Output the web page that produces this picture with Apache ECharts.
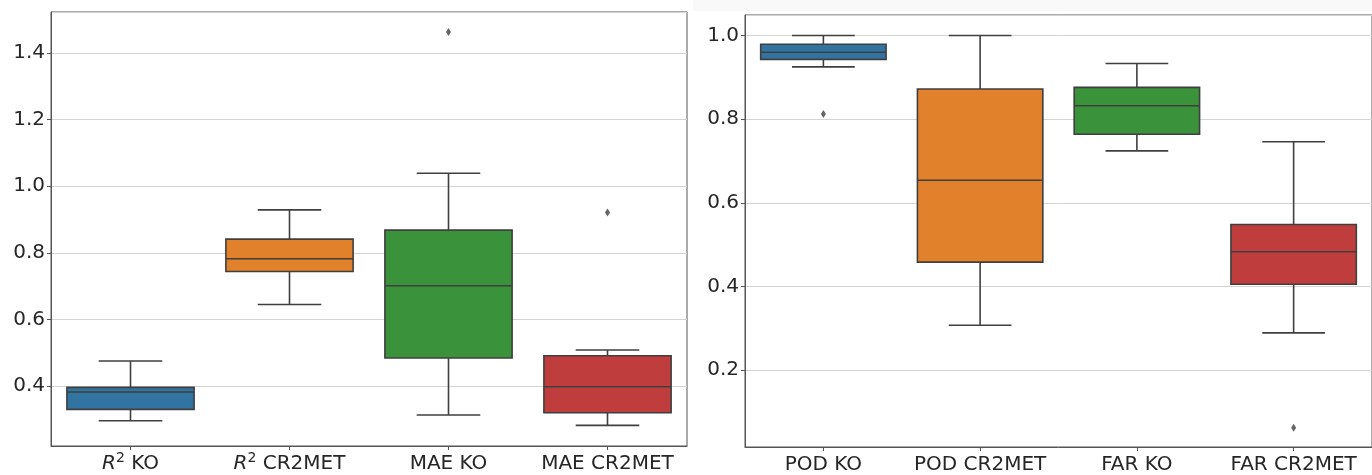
<!DOCTYPE html>
<html>
<head>
<meta charset="utf-8">
<script src="https://cdn.jsdelivr.net/npm/echarts@6/dist/echarts.min.js"></script>
<style>
html,body{margin:0;padding:0;background:#fff;}
#chart{width:1372px;height:475px;}
</style>
</head>
<body>
<div id="chart"></div>
<script>
// ---- data ----
const leftCategories = ['R² KO', 'R² CR2MET', 'MAE KO', 'MAE CR2MET'];
// [low whisker, q1, median, q3, high whisker]
const leftBoxes = [
  [0.296, 0.330, 0.382, 0.396, 0.475],
  [0.645, 0.744, 0.782, 0.841, 0.929],
  [0.313, 0.484, 0.701, 0.868, 1.039],
  [0.282, 0.320, 0.398, 0.491, 0.508]
];
const leftOutliers = [[2, 1.463], [3, 0.921]];

const rightCategories = ['POD KO', 'POD CR2MET', 'FAR KO', 'FAR CR2MET'];
const rightBoxes = [
  [0.925, 0.943, 0.960, 0.979, 1.000],
  [0.307, 0.458, 0.654, 0.872, 1.000],
  [0.724, 0.764, 0.832, 0.876, 0.933],
  [0.289, 0.405, 0.483, 0.548, 0.746]
];
const rightOutliers = [[0, 0.812], [3, 0.062]];

const leftTicks = [0.4, 0.6, 0.8, 1.0, 1.2, 1.4];
const rightTicks = [0.2, 0.4, 0.6, 0.8, 1.0];

// ---- styling ----
const palette = ['#3274a1', '#e1812c', '#3a923a', '#c03d3e'];
const edge = '#3f3f3f';
const FONT = 'DejaVu Sans';
const textColor = '#262626';

function renderBox(params, api) {
  const idx = api.value(0);
  const pLo = api.coord([idx, api.value(1)]);
  const pQ1 = api.coord([idx, api.value(2)]);
  const pMed = api.coord([idx, api.value(3)]);
  const pQ3 = api.coord([idx, api.value(4)]);
  const pHi = api.coord([idx, api.value(5)]);
  const band = api.size([1, 0])[0];
  const bw = band * 0.8, cw = band * 0.4;
  const cx = pMed[0];
  const ls = { stroke: edge, lineWidth: 1.6, fill: null };
  return {
    type: 'group',
    children: [
      { type: 'line', shape: { x1: cx, y1: pQ3[1], x2: cx, y2: pHi[1] }, style: ls },
      { type: 'line', shape: { x1: cx, y1: pQ1[1], x2: cx, y2: pLo[1] }, style: ls },
      { type: 'line', shape: { x1: cx - cw / 2, y1: pHi[1], x2: cx + cw / 2, y2: pHi[1] }, style: ls },
      { type: 'line', shape: { x1: cx - cw / 2, y1: pLo[1], x2: cx + cw / 2, y2: pLo[1] }, style: ls },
      { type: 'rect', shape: { x: cx - bw / 2, y: pQ3[1], width: bw, height: pQ1[1] - pQ3[1] },
        style: { fill: palette[idx], stroke: edge, lineWidth: 1.6 } },
      { type: 'line', shape: { x1: cx - bw / 2, y1: pMed[1], x2: cx + bw / 2, y2: pMed[1] }, style: ls }
    ]
  };
}

function catFormatter(v) {
  if (v.indexOf('R²') === 0) {
    return '{i|R}{sup|2}{n|' + v.slice(2) + '}';
  }
  return '{n|' + v + '}';
}
const catRich = {
  i: { fontFamily: FONT, fontSize: 20, fontStyle: 'italic', color: textColor, lineHeight: 26 },
  sup: { fontFamily: FONT, fontSize: 14, color: textColor, verticalAlign: 'top', lineHeight: 14 },
  n: { fontFamily: FONT, fontSize: 20, color: textColor, lineHeight: 26 }
};

function yLabel(ticks) {
  return function (v) {
    for (const t of ticks) if (Math.abs(v - t) < 1e-6) return t.toFixed(1);
    return '';
  };
}

function xAxis(gridIndex, cats) {
  return {
    type: 'category', gridIndex, data: cats, boundaryGap: true,
    axisLine: { show: true, lineStyle: { color: '#555', width: 1 } },
    axisTick: { show: true, alignWithLabel: true, length: 4, lineStyle: { color: '#555' } },
    axisLabel: { interval: 0, hideOverlap: false, margin: 5, formatter: catFormatter, rich: catRich,
      fontFamily: FONT, fontSize: 20, color: textColor },
    splitLine: { show: false }
  };
}
function yAxis(gridIndex, min, max, ticks) {
  return {
    type: 'value', gridIndex, min, max, minInterval: 0.2, maxInterval: 0.2, splitNumber: 6,
    axisLine: { show: true, lineStyle: { color: '#555', width: 1 } },
    axisTick: { show: true, length: 4, lineStyle: { color: '#555' } },
    axisLabel: { margin: 6, showMinLabel: false, showMaxLabel: false, formatter: yLabel(ticks),
      fontFamily: FONT, fontSize: 20, color: textColor },
    splitLine: { show: true, lineStyle: { color: '#d4d4d4', width: 1 } }
  };
}

const chart = echarts.init(document.getElementById('chart'), null, { renderer: 'canvas' });
chart.setOption({
  animation: false,
  backgroundColor: '#ffffff',
  graphic: [
    { type: 'rect', shape: { x: 693, y: 0, width: 679, height: 11 }, style: { fill: '#f9f9f9' }, z: -10 }
  ],
  grid: [
    { left: 51, top: 12, right: 685, bottom: 29, show: true, borderColor: '#555', borderWidth: 1, backgroundColor: 'transparent' },
    { left: 745, top: 15, right: -7, bottom: 26, show: true, borderColor: '#555', borderWidth: 1, backgroundColor: 'transparent' }
  ],
  xAxis: [xAxis(0, leftCategories), xAxis(1, rightCategories)],
  yAxis: [yAxis(0, 0.22, 1.523, leftTicks), yAxis(1, 0.016, 1.049, rightTicks)],
  series: [
    { type: 'custom', xAxisIndex: 0, yAxisIndex: 0, renderItem: renderBox,
      encode: { x: 0, y: [1, 2, 3, 4, 5] },
      data: leftBoxes.map((b, i) => [i].concat(b)) },
    { type: 'custom', xAxisIndex: 1, yAxisIndex: 1, renderItem: renderBox,
      encode: { x: 0, y: [1, 2, 3, 4, 5] },
      data: rightBoxes.map((b, i) => [i].concat(b)) },
    { type: 'scatter', xAxisIndex: 0, yAxisIndex: 0, symbol: 'diamond', symbolSize: [5, 8],
      itemStyle: { color: edge }, data: leftOutliers },
    { type: 'scatter', xAxisIndex: 1, yAxisIndex: 1, symbol: 'diamond', symbolSize: [5, 8],
      itemStyle: { color: edge }, data: rightOutliers }
  ]
});
</script>
</body>
</html>
